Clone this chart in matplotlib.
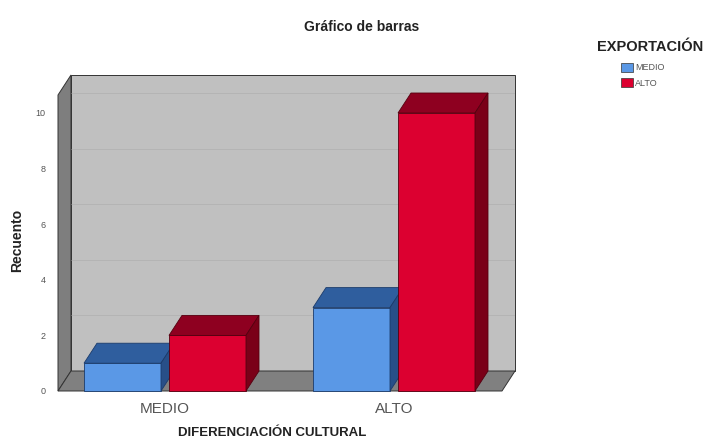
import matplotlib
matplotlib.use("Agg")
import matplotlib.pyplot as plt
from matplotlib.patches import Polygon, Patch

plt.rcParams["font.family"] = ["Liberation Sans", "DejaVu Sans"]

# ---- data ----
categories = ["MEDIO", "ALTO"]
series_names = ["MEDIO", "ALTO"]
medio_counts = [1, 3]
alto_counts = [2, 10]
yticks = [0, 2, 4, 6, 8, 10]

# ---- style ----
W, H = 713, 443
fig = plt.figure(figsize=(W / 100, H / 100), dpi=100)
fig.patch.set_facecolor("white")

px_left, px_right, px_bottom, px_top = 58, 515, 391, 75
ax = fig.add_axes([px_left / W, (H - px_bottom) / H,
                   (px_right - px_left) / W, (px_bottom - px_top) / H])
unit_x = 229.0
unit_y = 27.8
xlo = (px_left - 165) / unit_x
xhi = (px_right - 165) / unit_x
ytop = (px_bottom - px_top) / unit_y
ax.set_xlim(xlo, xhi)
ax.set_ylim(0, ytop)
dx = 13 / unit_x
dy = 20 / unit_y
wall_top = ytop - dy
floor_front_right = xhi - dx

def poly(pts, fc, ec="#222222", lw=0.7, z=1):
    ax.add_patch(Polygon(pts, closed=True, facecolor=fc, edgecolor=ec,
                         linewidth=lw, zorder=z, clip_on=False))

# back wall
poly([(xlo + dx, dy), (xhi, dy), (xhi, ytop), (xlo + dx, ytop)], "#c0c0c0", ec="#333333", z=1)
# gridlines on the back wall
for v in yticks[1:]:
    ax.plot([xlo + dx, xhi], [v + dy, v + dy], color="#b2b2b2", lw=0.6, zorder=1.5)
# left wall
poly([(xlo, 0), (xlo + dx, dy), (xlo + dx, ytop), (xlo, wall_top)], "#7e7e7e", ec="#333333", z=2)
# floor
poly([(xlo, 0), (floor_front_right, 0), (xhi, dy), (xlo + dx, dy)], "#808080", ec="#333333", z=2)

bar_w = 77 / unit_x
offset = 42.5 / unit_x
colors = [
    {"front": "#5a98e6", "top": "#2f5e9e", "side": "#284f88", "edge": "#1b3b6b"},
    {"front": "#dc0030", "top": "#8e0020", "side": "#7a0018", "edge": "#55000f"},
]

def bar3d(xc, h, c, z):
    x0, x1 = xc - bar_w / 2, xc + bar_w / 2
    poly([(x0, 0), (x1, 0), (x1, h), (x0, h)], c["front"], ec=c["edge"], lw=0.6, z=z)
    poly([(x0, h), (x1, h), (x1 + dx, h + dy), (x0 + dx, h + dy)], c["top"], ec=c["edge"], lw=0.6, z=z)
    poly([(x1, 0), (x1 + dx, dy), (x1 + dx, h + dy), (x1, h)], c["side"], ec=c["edge"], lw=0.6, z=z)

z = 3
for i, cat in enumerate(categories):
    for j, vals in enumerate([medio_counts, alto_counts]):
        xc = i + (-offset if j == 0 else offset)
        bar3d(xc, vals[i], colors[j], z)
        z += 1

for s in ax.spines.values():
    s.set_visible(False)
ax.set_yticks(yticks)
ax.set_yticklabels([str(t) for t in yticks], fontsize=6.5, color="#555555")
ax.set_xticks(range(len(categories)))
ax.set_xticklabels(categories, fontsize=11, color="#555555")
ax.tick_params(axis="y", length=0, pad=9)
ax.tick_params(axis="x", length=0, pad=8)

ax.set_ylabel("Recuento", fontsize=10, fontweight="bold", color="#222222")
ax.set_xlabel("DIFERENCIACIÓN CULTURAL", fontsize=9.5, fontweight="bold", color="#222222")
ax.xaxis.set_label_coords((272 - px_left) / (px_right - px_left), -(427 - px_bottom) / (px_bottom - px_top))
ax.yaxis.set_label_coords(-(px_left - 24) / (px_right - px_left), (px_bottom - 240) / (px_bottom - px_top))

fig.text(362 / W, 1 - 27 / H, "Gráfico de barras", fontsize=10, fontweight="bold",
         color="#222222", ha="center", va="center")

fig.text(650 / W, 1 - 47 / H, "EXPORTACIÓN", fontsize=10.5, fontweight="bold",
         color="#222222", ha="center", va="center")
handles = [Patch(facecolor=colors[k]["front"], edgecolor="#333333", linewidth=0.5)
           for k in range(2)]
leg = fig.legend(handles, series_names, loc="upper left",
                 bbox_to_anchor=(621 / W, 1 - 63 / H), frameon=False, fontsize=6.5,
                 handlelength=1.3, handleheight=1.1, handletextpad=0.25,
                 labelspacing=0.65, borderpad=0.0, borderaxespad=0.0)
for t in leg.get_texts():
    t.set_color("#555555")

fig.savefig("out.png", dpi=100)
